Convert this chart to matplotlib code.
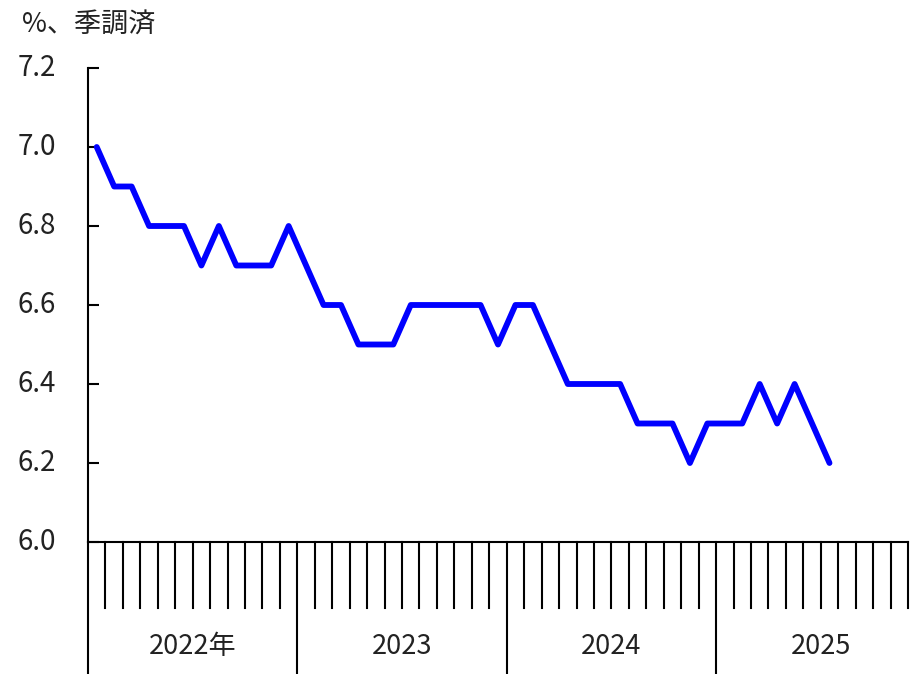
import matplotlib
matplotlib.use("Agg")
import matplotlib.pyplot as plt
import matplotlib.transforms as mtransforms

plt.rcParams['font.family'] = ['Noto Sans CJK JP', 'DejaVu Sans']

# Monthly values, Jan 2022 - Jul 2025 (%, seasonally adjusted)
values = [7.0, 6.9, 6.9, 6.8, 6.8, 6.8, 6.7, 6.8, 6.7, 6.7, 6.7, 6.8,
          6.7, 6.6, 6.6, 6.5, 6.5, 6.5, 6.6, 6.6, 6.6, 6.6, 6.6, 6.5,
          6.6, 6.6, 6.5, 6.4, 6.4, 6.4, 6.4, 6.3, 6.3, 6.3, 6.2, 6.3,
          6.3, 6.3, 6.4, 6.3, 6.4, 6.3, 6.2]
n_months = 47  # axis spans Jan 2022 - Nov 2025
year_labels = ['2022年', '2023', '2024', '2025']
yticks = [6.0, 6.2, 6.4, 6.6, 6.8, 7.0, 7.2]
ylabel_text = '%、季調済'

W, H = 910, 674
fig = plt.figure(figsize=(W / 100, H / 100), dpi=100)
left, right = 88 / W, 908 / W
top_px, bot_px = 68, 542
ax = fig.add_axes([left, 1 - bot_px / H, right - left, (bot_px - top_px) / H])

x = [i + 0.5 for i in range(len(values))]
ax.plot(x, values, color='#0000FF', linewidth=4.2, solid_joinstyle='round',
        solid_capstyle='round', clip_on=False, zorder=3)

ax.set_xlim(0, n_months)
ax.set_ylim(6.0, 7.2)
ax.set_yticks(yticks)
ax.set_yticklabels([f'{v:.1f}' for v in yticks], fontsize=20)
ax.tick_params(axis='y', direction='in', length=8, width=1.5, pad=23, colors='black')
offset = mtransforms.ScaledTranslation(0, 4 / 100, fig.dpi_scale_trans)
for lbl in ax.get_yticklabels():
    lbl.set_color('#222222')
    lbl.set_transform(lbl.get_transform() + offset)
ax.set_xticks([])

for s in ['top', 'right']:
    ax.spines[s].set_visible(False)
ax.spines['left'].set_linewidth(1.5)
ax.spines['bottom'].set_linewidth(1.5)

# category ticks below the axis
trans = mtransforms.blended_transform_factory(ax.transData, ax.transAxes)
axes_h_px = bot_px - top_px
minor_len = 66 / axes_h_px
major_len = 132 / axes_h_px
for m in range(n_months + 1):
    if m % 12 == 0:
        ax.plot([m, m], [0, -major_len], color='black', lw=1.5, transform=trans, clip_on=False)
    else:
        ax.plot([m, m], [0, -minor_len], color='black', lw=1.5, transform=trans, clip_on=False)

for k, lab in enumerate(year_labels):
    ax.text(12 * k + 6, -(646 - bot_px) / axes_h_px, lab, transform=trans,
            ha='center', va='center', fontsize=19.5, color='#222222')

fig.text(22 / W, 1 - 24 / H, ylabel_text, fontsize=19.5, ha='left', va='center', color='#222222')

fig.savefig('out.png', dpi=100, facecolor='white')
